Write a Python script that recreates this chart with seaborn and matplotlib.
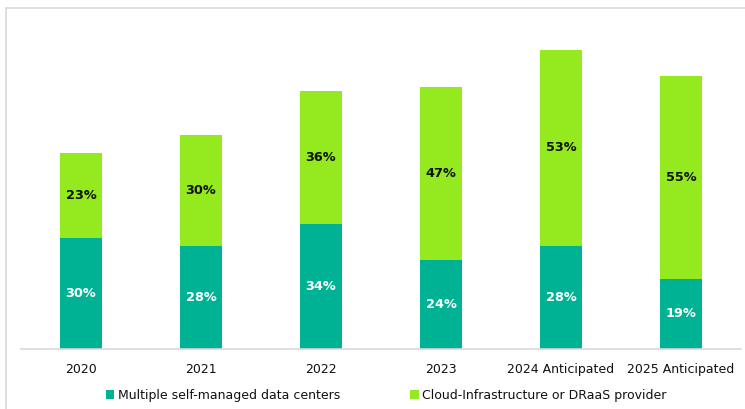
import matplotlib
matplotlib.use("Agg")
import matplotlib.pyplot as plt
import seaborn as sns
import pandas as pd
from matplotlib.patches import Patch
from matplotlib.lines import Line2D

categories = ["2020", "2021", "2022", "2023", "2024 Anticipated", "2025 Anticipated"]
self_managed = [30, 28, 34, 24, 28, 19]
cloud = [23, 30, 36, 47, 53, 55]
series_names = ["Multiple self-managed data centers", "Cloud-Infrastructure or DRaaS provider"]

teal = "#00B294"
lime = "#94EA1F"

sns.set_theme(style="white")
plt.rcParams['font.family'] = ['DejaVu Sans']

df = pd.DataFrame({"cat": categories, "self": self_managed, "cloud": cloud})
df["total"] = df["self"] + df["cloud"]

fig = plt.figure(figsize=(7.45, 4.09), dpi=100)
ax = fig.add_axes([21/745, 60/409, 720/745, 332/409])

sns.barplot(data=df, x="cat", y="total", color=lime, width=0.35, saturation=1,
            linewidth=0, edgecolor="none", ax=ax)
sns.barplot(data=df, x="cat", y="self", color=teal, width=0.35, saturation=1,
            linewidth=0, edgecolor="none", ax=ax)

for i, (s, c) in enumerate(zip(self_managed, cloud)):
    ax.text(i, s / 2, f"{s}%", ha="center", va="center", color="white",
            fontsize=9.3, fontweight="bold")
    ax.text(i, s + c / 2, f"{c}%", ha="center", va="center", color="#111111",
            fontsize=9.3, fontweight="bold")

ax.set_ylim(0, 90)
ax.set_xlim(-0.5, 5.5)
ax.set_xlabel("")
ax.set_ylabel("")
ax.set_yticks([])
for sp in ["left", "right", "top"]:
    ax.spines[sp].set_visible(False)
ax.spines["bottom"].set_color("#D9D9D9")
ax.spines["bottom"].set_linewidth(1.2)
ax.tick_params(axis="x", length=0, pad=10, labelsize=9, labelcolor="#111111")

handles = [Patch(facecolor=teal, edgecolor="none"), Patch(facecolor=lime, edgecolor="none")]
fig.legend(handles, series_names, loc="center", bbox_to_anchor=(0.518, 1 - 395/409),
           ncol=2, frameon=False, fontsize=9, handlelength=0.7, handleheight=0.7,
           handletextpad=0.25, columnspacing=5.6, labelcolor="#111111")

# outer frame lines
fig.add_artist(Line2D([6/745, 6/745], [0, 1 - 8/409], transform=fig.transFigure,
                      color="#D9D9D9", lw=1.2))
fig.add_artist(Line2D([6/745, 1], [1 - 8/409, 1 - 8/409], transform=fig.transFigure,
                      color="#D9D9D9", lw=1.2))

fig.savefig("out.png", dpi=100)
